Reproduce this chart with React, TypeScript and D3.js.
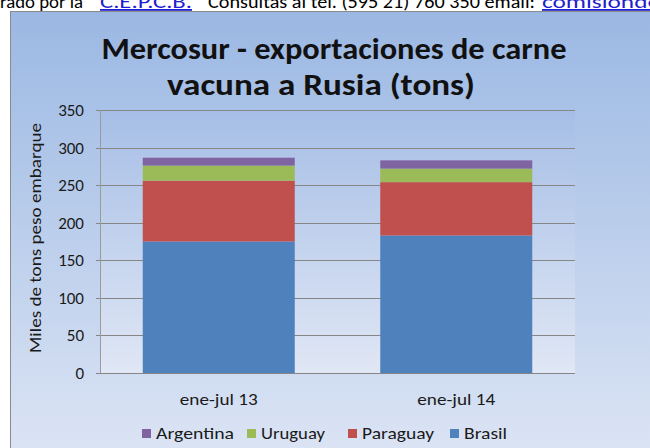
import { useEffect, useRef } from 'react';
import * as d3 from 'd3';

const categories = ['ene-jul 13', 'ene-jul 14'];
const series = ['Brasil', 'Paraguay', 'Uruguay', 'Argentina'];
const brasil = [175, 183];
const paraguay = [81, 71];
const uruguay = [20, 18];
const argentina = [10.5, 11];
const yTicks = [0, 50, 100, 150, 200, 250, 300, 350];
const legendOrder = ['Argentina', 'Uruguay', 'Paraguay', 'Brasil'];
const colors: Record<string, string> = {
  Brasil: '#4f81bd',
  Paraguay: '#c0504d',
  Uruguay: '#9bbb59',
  Argentina: '#8064a2',
};

const FONT = "Carlito, Calibri, 'Open Sans', 'Liberation Sans', sans-serif";

function App() {
  const svgRef = useRef<SVGSVGElement>(null);

  useEffect(() => {
    const svg = d3.select(svgRef.current);
    svg.selectAll('*').remove();

    const rows = categories.map((c, i) => ({
      cat: c,
      Brasil: brasil[i],
      Paraguay: paraguay[i],
      Uruguay: uruguay[i],
      Argentina: argentina[i],
    }));

    const defs = svg.append('defs');
    const bg = defs.append('linearGradient').attr('id', 'bg').attr('x1', 0).attr('y1', 0).attr('x2', 0).attr('y2', 1);
    bg.append('stop').attr('offset', '0%').attr('stop-color', '#9bb8e3');
    bg.append('stop').attr('offset', '100%').attr('stop-color', '#dee6f5');
    const pg = defs.append('linearGradient').attr('id', 'pg').attr('x1', 0).attr('y1', 0).attr('x2', 0).attr('y2', 1);
    pg.append('stop').attr('offset', '0%').attr('stop-color', '#a6bee6');
    pg.append('stop').attr('offset', '100%').attr('stop-color', '#e0e7f5');

    // page background + cut-off line of the surrounding document
    svg.append('rect').attr('width', 650).attr('height', 448).attr('fill', '#ffffff');
    const head = svg.append('g').attr('font-family', FONT).attr('font-size', 18).attr('fill', '#000');
    const headParts = [
      { t: 'rado por la', x: 0, len: 83, link: false },
      { t: 'C.E.P.C.B.', x: 100, len: 92, link: true },
      { t: 'Consultas al tel. (595 21) 760 350 email:', x: 208, len: 327, link: false },
      { t: 'comisionde', x: 542, len: 118, link: true },
    ];
    headParts.forEach((p) => {
      head.append('text').attr('x', p.x).attr('y', 8)
        .attr('textLength', p.len).attr('lengthAdjust', 'spacingAndGlyphs')
        .attr('fill', p.link ? '#1f1fd0' : '#000')
        .attr('text-decoration', p.link ? 'underline' : null)
        .text(p.t);
    });

    // chart area
    svg.append('rect').attr('x', 10.5).attr('y', 11.5).attr('width', 660).attr('height', 460)
      .attr('fill', 'url(#bg)').attr('stroke', '#8a8a8a');

    const m = { left: 100, right: 575, top: 110, bottom: 373 };

    svg.append('rect').attr('x', m.left).attr('y', m.top)
      .attr('width', m.right - m.left).attr('height', m.bottom - m.top)
      .attr('fill', 'url(#pg)');

    const x = d3.scaleBand().domain(categories).range([m.left, m.right]).paddingInner(0.36).paddingOuter(0.18);
    const y = d3.scaleLinear().domain([0, 350]).range([m.bottom, m.top]);

    // gridlines
    svg.append('g').selectAll('line').data(yTicks).join('line')
      .attr('x1', m.left - 4).attr('x2', m.right)
      .attr('y1', (d) => Math.round(y(d)) + 0.5).attr('y2', (d) => Math.round(y(d)) + 0.5)
      .attr('stroke', '#868686').attr('stroke-width', 1);
    svg.append('line').attr('x1', m.left + 0.5).attr('x2', m.left + 0.5)
      .attr('y1', m.top).attr('y2', m.bottom).attr('stroke', '#9a9a9a');

    const stacked = d3.stack<any>().keys(series)(rows);
    svg.append('g').selectAll('g').data(stacked).join('g')
      .attr('fill', (s) => colors[s.key])
      .selectAll('rect').data((s) => s).join('rect')
      .attr('x', (d: any) => x(d.data.cat)!)
      .attr('width', x.bandwidth())
      .attr('y', (d) => y(d[1]))
      .attr('height', (d) => y(d[0]) - y(d[1]));

    // y tick labels
    svg.append('g').selectAll('text').data(yTicks).join('text')
      .attr('x', 84).attr('y', (d) => y(d) + 6)
      .attr('text-anchor', 'end').attr('font-family', FONT).attr('font-size', 17)
      .attr('fill', '#1a1a1a').text((d) => d);

    // x labels
    svg.append('g').selectAll('text').data(categories).join('text')
      .attr('x', (d) => x(d)! + x.bandwidth() / 2).attr('y', 405)
      .attr('text-anchor', 'middle').attr('font-family', FONT).attr('font-size', 17)
      .attr('textLength', 78).attr('lengthAdjust', 'spacingAndGlyphs')
      .attr('fill', '#1a1a1a').text((d) => d);

    // y axis title
    svg.append('text').attr('transform', 'translate(41,238) rotate(-90)')
      .attr('text-anchor', 'middle').attr('font-family', FONT).attr('font-size', 17)
      .attr('textLength', 230).attr('lengthAdjust', 'spacingAndGlyphs')
      .attr('fill', '#1a1a1a').text('Miles de tons peso embarque');

    // title
    const title = svg.append('g').attr('text-anchor', 'middle').attr('font-family', FONT)
      .attr('font-size', 31).attr('font-weight', 'bold').attr('fill', '#111');
    title.append('text').attr('x', 334).attr('y', 59)
      .attr('textLength', 465).attr('lengthAdjust', 'spacingAndGlyphs')
      .text('Mercosur - exportaciones de carne');
    title.append('text').attr('x', 321).attr('y', 95)
      .attr('textLength', 308).attr('lengthAdjust', 'spacingAndGlyphs')
      .text('vacuna a Rusia (tons)');

    // legend
    const legendX = [142, 247, 348, 450];
    const legendLen = [78, 64, 72, 43];
    const lg = svg.append('g').selectAll('g').data(legendOrder).join('g')
      .attr('transform', (_d, i) => `translate(${legendX[i]},433)`);
    lg.append('rect').attr('x', 0).attr('y', -4).attr('width', 9).attr('height', 9)
      .attr('fill', (d) => colors[d]);
    lg.append('text').attr('x', 14).attr('y', 6).attr('font-family', FONT).attr('font-size', 17)
      .attr('textLength', (_d, i) => legendLen[i]).attr('lengthAdjust', 'spacingAndGlyphs')
      .attr('fill', '#1a1a1a').text((d) => d);
  }, []);

  return (
    <svg ref={svgRef} width={650} height={448}
      style={{ position: 'absolute', left: 0, top: 0, display: 'block' }} />
  );
}

export default App;
